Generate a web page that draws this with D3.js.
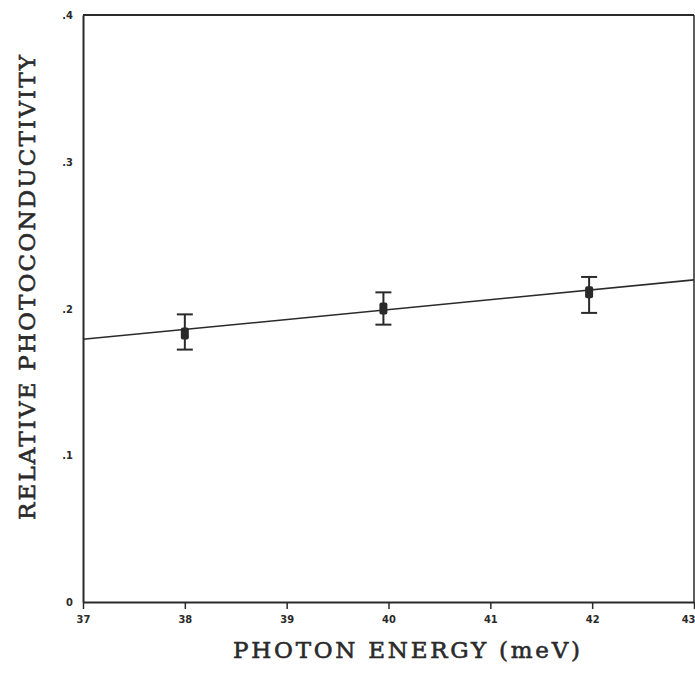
<!DOCTYPE html>
<html><head><meta charset="utf-8">
<script src="https://cdn.jsdelivr.net/npm/d3@7"></script>
<style>body{margin:0;background:#fff}svg{display:block}</style>
</head><body>
<script>
const energies = [38, 39.95, 41.97];
const values = [0.183, 0.200, 0.211];
const errLow = [0.172, 0.189, 0.197];
const errHigh = [0.196, 0.211, 0.2215];
const fitX = [37, 43];
const fitY = [0.179, 0.2195];
const xTicks = [37, 38, 39, 40, 41, 42, 43];
const yTicks = [0, 0.1, 0.2, 0.3, 0.4];
const yTickLabels = ["0", ".1", ".2", ".3", ".4"];

const W = 695, H = 678;
const svg = d3.select("body").append("svg").attr("width", W).attr("height", H);
const x = d3.scaleLinear().domain([37, 43]).range([83, 694]);
const y = d3.scaleLinear().domain([0, 0.4]).range([602, 15]);
const ink = "#2a2a2a";
const tickFont = "'DejaVu Sans Condensed','DejaVu Sans'";
const titleFont = "'DejaVu Serif','Liberation Serif',serif";

// frame
svg.append("line").attr("x1", x(37)).attr("x2", x(43)).attr("y1", y(0.4)).attr("y2", y(0.4)).attr("stroke", ink).attr("stroke-width", 2);
svg.append("line").attr("x1", x(43)).attr("x2", x(43)).attr("y1", y(0.4)).attr("y2", y(0)).attr("stroke", ink).attr("stroke-width", 1.5);

const xAxis = svg.append("g").attr("transform", `translate(0,${y(0)})`)
  .call(d3.axisBottom(x).tickValues(xTicks).tickSize(7).tickSizeOuter(0).tickFormat(d3.format("d")));
xAxis.select(".domain").attr("stroke", ink).attr("stroke-width", 2);
xAxis.selectAll(".tick line").attr("stroke", ink).attr("stroke-width", 1.5);
xAxis.selectAll(".tick text").attr("y", 13).attr("fill", ink)
  .attr("text-anchor", d => d === 43 ? "end" : "middle")
  .attr("dx", d => d === 43 ? 1 : 0)
  .style("font-family", tickFont).style("font-weight", "bold").style("font-size", "11px");

const yAxis = svg.append("g").attr("transform", `translate(${x(37)},0)`)
  .call(d3.axisLeft(y).tickValues(yTicks).tickSize(0).tickSizeOuter(0).tickFormat((d, i) => yTickLabels[i]));
yAxis.select(".domain").attr("stroke", ink).attr("stroke-width", 2);
yAxis.selectAll(".tick text").attr("x", -10).attr("fill", ink)
  .style("font-family", tickFont).style("font-weight", "bold").style("font-size", "11px");

// fit line
svg.append("path").datum(fitX.map((d, i) => [d, fitY[i]]))
  .attr("d", d3.line().x(d => x(d[0])).y(d => y(d[1])))
  .attr("fill", "none").attr("stroke", ink).attr("stroke-width", 1.6);

// error bars
const pts = energies.map((e, i) => ({e, v: values[i], lo: errLow[i], hi: errHigh[i]}));
const g = svg.append("g");
g.selectAll(".eb").data(pts).join("line").attr("x1", d => x(d.e)).attr("x2", d => x(d.e))
  .attr("y1", d => y(d.lo)).attr("y2", d => y(d.hi)).attr("stroke", ink).attr("stroke-width", 2);
g.selectAll(".cap1").data(pts).join("line").attr("x1", d => x(d.e) - 8).attr("x2", d => x(d.e) + 8)
  .attr("y1", d => y(d.hi)).attr("y2", d => y(d.hi)).attr("stroke", ink).attr("stroke-width", 2);
g.selectAll(".cap2").data(pts).join("line").attr("x1", d => x(d.e) - 8).attr("x2", d => x(d.e) + 8)
  .attr("y1", d => y(d.lo)).attr("y2", d => y(d.lo)).attr("stroke", ink).attr("stroke-width", 2);
g.selectAll(".pt").data(pts).join("rect").attr("x", d => x(d.e) - 4).attr("y", d => y(d.v) - 6)
  .attr("width", 8).attr("height", 12).attr("rx", 2).attr("fill", ink);

// titles
svg.append("text").attr("x", 233).attr("y", 658)
  .attr("textLength", 347).attr("lengthAdjust", "spacing")
  .style("font-family", titleFont).style("font-size", "23px")
  .attr("fill", ink).attr("stroke", ink).attr("stroke-width", 0.6).text("PHOTON ENERGY (meV)");
svg.append("text").attr("transform", "translate(35,520) rotate(-90)")
  .attr("textLength", 465).attr("lengthAdjust", "spacing")
  .style("font-family", titleFont).style("font-size", "23px")
  .attr("fill", ink).attr("stroke", ink).attr("stroke-width", 0.6).text("RELATIVE PHOTOCONDUCTIVITY");
</script>
</body></html>
